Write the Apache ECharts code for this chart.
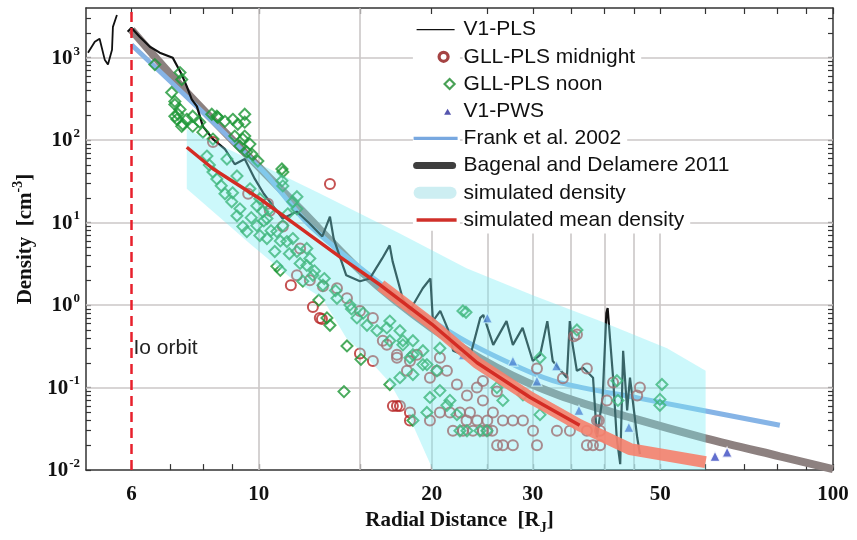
<!DOCTYPE html>
<html>
<head>
<meta charset="utf-8">
<script src="https://cdn.jsdelivr.net/npm/echarts@6.0.0/dist/echarts.min.js"></script>
<style>
html, body { margin: 0; padding: 0; background: #fff; }
#density { width: 857px; height: 540px; }
</style>
</head>
<body>
<div id="density"></div>
<script>
// axis ticks / labels
const xLabels = [6, 10, 20, 30, 50, 100];
const xTicks = [6, 7, 8, 9, 10, 15, 20, 25, 30, 35, 40, 45, 50, 60, 70, 80, 90, 100];
const gridX = [10, 15, 20, 25, 30, 35, 40, 45, 50];
const yLabels = [0.01, 0.1, 1, 10, 100, 1000];
const gridY = [0.1, 1, 10, 100, 1000];
const yMantissa = [1, 2, 3, 4, 5, 6, 7, 8, 9];

// V1-PLS (before and after Io orbit)
const v1PreIo = [[5.04, 1150], [5.18, 1560], [5.28, 1695], [5.39, 946], [5.46, 824], [5.55, 1248], [5.57, 2362], [5.66, 3296]];
const v1Pls = [[5.91, 2057], [6.0, 2298], [6.2, 1791], [6.46, 1357], [6.72, 1150], [7.08, 1000], [7.34, 624], [7.49, 448],
  [7.64, 312], [7.8, 257], [7.99, 147], [8.32, 103], [8.73, 78], [9.08, 51], [9.45, 59], [9.84, 33.9], [10.2, 22.4],
  [11.0, 11.2], [11.65, 13.6], [12.27, 9.7], [12.9, 6.8], [13.3, 11.8], [13.5, 6.4], [14.2, 2.3], [15.0, 1.95], [15.6, 2.1],
  [16.4, 3.68], [16.9, 5.3], [17.1, 3.39], [17.8, 1.21], [18.3, 0.85], [19.3, 1.6], [19.9, 2.1], [20.1, 0.64], [20.7, 0.85],
  [21.3, 0.53], [21.8, 0.28], [23.3, 0.23], [24.3, 0.7], [24.6, 0.76], [25.6, 0.33], [27.0, 0.64], [27.7, 0.33], [28.8, 0.53],
  [30.0, 0.21], [30.9, 0.25], [31.8, 0.64], [32.5, 0.21], [34.4, 0.132], [34.8, 0.64], [35.2, 0.33], [35.8, 0.16], [36.7, 0.174],
  [38.2, 0.132], [38.8, 0.025], [39.7, 0.076], [40.3, 0.8], [40.5, 0.92], [41.4, 0.132], [42.0, 0.025], [42.6, 0.0118],
  [43.1, 0.28], [43.8, 0.053], [44.3, 0.132], [45.6, 0.025], [46.1, 0.0156]];

// GLL-PLS noon (diamonds)
const gllNoon = [[6.59, 824], [7.29, 659], [7.34, 543], [7.05, 379], [7.14, 295], [7.14, 271], [7.23, 206], [7.29, 236],
  [7.2, 179], [7.14, 195], [7.37, 156], [7.49, 179], [7.34, 147], [7.67, 195], [7.67, 147], [7.89, 165], [7.99, 125],
  [8.28, 206], [8.45, 195], [8.48, 189], [8.73, 169], [9.01, 179], [9.45, 206], [9.45, 165], [9.19, 156], [9.08, 112],
  [9.38, 103], [9.45, 112], [9.65, 89.5], [9.27, 84.7], [9.53, 71.6], [9.72, 67.8], [9.96, 55.8], [8.32, 103], [10.97, 44.7],
  [11.01, 41.1], [10.97, 32.1], [11.01, 27.9], [11.65, 20.6], [11.46, 17.9], [11.65, 14.7], [11.23, 12.8],
  [8.32, 41.1], [8.45, 33.9], [8.73, 22.4], [8.97, 17.9], [9.16, 12.1], [9.38, 8.95], [9.53, 7.79], [10.04, 6.97], [10.66, 4.47],
  [8.12, 64.1], [8.8, 59.0], [9.16, 36.8], [9.65, 25.7], [10.04, 19.5], [10.45, 14.7], [11.01, 9.2], [11.46, 6.41], [12.12, 4.86],
  [12.27, 3.68], [10.16, 13.6], [9.92, 9.2], [9.27, 14.7], [10.33, 6.41], [9.92, 16.0], [10.33, 11.2], [10.75, 7.79], [11.19, 5.9],
  [11.65, 4.47], [12.12, 3.03], [12.42, 2.3], [12.93, 1.74], [13.68, 1.21], [14.41, 1.0], [14.82, 0.7], [15.43, 0.57], [16.06, 0.49],
  [16.91, 0.37], [17.82, 0.33], [18.55, 0.25], [19.31, 0.19], [20.42, 0.16], [22.67, 0.85],
  [10.5, 8.0], [10.9, 6.0], [11.3, 4.2], [11.8, 3.2], [12.5, 2.6], [13.0, 2.1], [13.6, 1.5], [14.5, 0.9], [15.2, 0.8], [10.2, 10.5],
  [9.7, 11.5], [9.0, 23], [8.6, 28], [8.2, 50],
  [10.75, 2.95], [10.9, 2.64], [11.93, 1.95], [12.72, 1.15], [13.14, 0.7], [13.3, 0.57], [14.24, 0.32], [15.06, 0.22], [14.07, 0.0895],
  [18.55, 0.04], [16.71, 0.53], [17.61, 0.49], [16.91, 0.64], [17.82, 0.37], [18.55, 0.37], [19.31, 0.28], [18.55, 0.144],
  [19.62, 0.19], [20.67, 0.092], [21.52, 0.07], [22.13, 0.047], [23.04, 0.03], [24.27, 0.03], [24.96, 0.03], [22.4, 0.03],
  [35.81, 0.5], [30.88, 0.23], [28.84, 0.082], [30.88, 0.047], [42.04, 0.121], [42.21, 0.07], [50.36, 0.109], [49.95, 0.072],
  [49.95, 0.061], [22.95, 0.82], [16.91, 0.109], [19.62, 0.05], [17.61, 0.132], [19.86, 0.076], [21.26, 0.061], [18.33, 0.23],
  [20.67, 0.3], [25.98, 0.1], [26.61, 0.07]];

// GLL-PLS midnight (circles)
const gllMidnight = [[13.3, 29.5], [11.37, 1.74], [11.65, 2.3], [12.42, 0.95], [12.77, 0.7], [12.88, 0.68], [15.0, 0.26],
  [17.12, 0.06], [17.4, 0.06], [17.61, 0.06], [18.33, 0.04], [12.27, 2.0], [12.93, 1.69], [13.68, 1.6], [14.24, 1.21],
  [15.0, 0.85], [15.8, 0.7], [16.44, 0.37], [17.4, 0.25], [18.33, 0.21], [20.42, 0.16], [15.8, 0.21], [16.71, 0.33],
  [17.4, 0.23], [18.11, 0.16], [18.85, 0.25], [19.86, 0.132], [20.67, 0.23], [21.26, 0.16], [22.13, 0.109], [23.04, 0.08],
  [23.98, 0.1], [24.56, 0.07], [25.57, 0.05], [26.61, 0.04], [27.7, 0.04], [28.84, 0.04], [30.03, 0.03], [21.78, 0.03],
  [22.67, 0.03], [23.6, 0.03], [24.56, 0.03], [26.61, 0.02], [27.7, 0.02], [30.51, 0.02], [20.67, 0.05], [21.52, 0.05],
  [22.4, 0.05], [23.32, 0.05], [19.86, 0.04], [18.33, 0.05], [30.51, 0.17], [33.85, 0.13], [37.27, 0.17], [38.81, 0.04],
  [37.27, 0.03], [39.28, 0.03], [40.39, 0.07], [35.81, 0.44], [33.05, 0.03], [34.82, 0.03], [37.27, 0.02], [38.19, 0.02],
  [39.28, 0.02], [24.56, 0.12], [25.98, 0.09], [35.4, 0.42], [39.1, 0.04], [41.4, 0.115], [46.1, 0.1], [45.6, 0.08],
  [8.32, 95], [9.58, 22.4], [10.37, 16.9], [10.45, 13.9], [11.01, 8.95], [11.8, 4.86], [25.0, 0.03], [25.5, 0.03],
  [26.0, 0.02], [23.0, 0.04], [24.0, 0.04], [25.0, 0.04]];

// V1-PWS (triangles)
const v1Pws = [[22.7, 0.25], [25.0, 0.7], [27.7, 0.21], [30.5, 0.12], [33.0, 0.184], [36.1, 0.053], [44.1, 0.033],
  [62.3, 0.0147], [65.4, 0.0165]];

// models
const frank2002 = [[6, 1435], [10.16, 42.3], [12.27, 9.2], [17.6, 1.21], [22.4, 0.4], [28.5, 0.174], [33.4, 0.115],
  [46.1, 0.074], [80.8, 0.035]];
const bagenal2011 = [[6, 2170], [7.49, 379], [10, 47.3], [11.8, 14.7], [15.2, 2.43], [20, 0.53], [26.0, 0.174],
  [33.4, 0.08], [44.3, 0.0435], [60, 0.0243], [80.8, 0.0147], [100, 0.0103]];
const meanDensity = [[7.49, 82], [8.32, 45], [10.04, 19.5], [11.65, 9.2], [13.8, 3.9], [16.3, 1.74], [20, 0.59],
  [24.0, 0.2], [29.7, 0.076], [36.2, 0.035], [44.3, 0.018], [60, 0.0125]];
const simUpper = [[7.49, 136], [10.04, 51], [12.8, 22.4], [17.6, 7.4], [23.0, 2.8], [30.0, 1.32], [39.3, 0.64],
  [51.4, 0.3], [60, 0.16]];
const simLower = [[7.49, 25.7], [9.64, 5.6], [11.4, 2.1], [12.9, 1.21], [14.2, 0.4], [15.2, 0.26], [16.9, 0.115],
  [18.3, 0.0435], [20.1, 0.01], [60, 0.01]];

const ioOrbit = 6;
const ioLabelAt = [6, 0.3];

// where the legend box covers the grid (data units)
const legendLeftX = 18.55;
const legendTextX = 22.4;
const legendBottomY = 8;

const yTicks = [];
yLabels.forEach(function (d) {
  yMantissa.forEach(function (m) {
    const v = +(m * d).toPrecision(3);
    if (v < 4000) yTicks.push(v);
  });
});

const serif = 'Liberation Serif';
const sans = 'Liberation Sans';
const ink = '#111';

function powLabel(v) {
  const lg = Math.log10(v);
  const e = Math.round(lg);
  if (Math.abs(lg - e) > 0.01) return '';
  return '{b|10}{s|' + e + '}';
}

const powRich = {
  b: { fontFamily: serif, fontWeight: 'bold', fontSize: 21, color: ink, verticalAlign: 'bottom', lineHeight: 22 },
  s: { fontFamily: serif, fontWeight: 'bold', fontSize: 13, color: ink, verticalAlign: 'bottom', lineHeight: 13, padding: [0, 0, 11, 1] }
};

const frameLine = { show: true, lineStyle: { color: '#333', width: 1.5 } };

// grid segments: vertical lines stop under the legend, horizontal ones skip the legend icons
const gridSegments = [];
gridX.forEach(function (x) {
  const top = x >= legendLeftX ? legendBottomY : 4000;
  gridSegments.push([{ coord: [x, 0.01] }, { coord: [x, top] }]);
});
gridY.forEach(function (y) {
  if (y >= legendBottomY) {
    gridSegments.push([{ coord: [5, y] }, { coord: [legendLeftX, y] }]);
    gridSegments.push([{ coord: [legendTextX, y] }, { coord: [100, y] }]);
  } else {
    gridSegments.push([{ coord: [5, y] }, { coord: [100, y] }]);
  }
});

const chart = echarts.init(document.getElementById('density'));
chart.setOption({
  animation: false,
  backgroundColor: '#fff',
  grid: { left: 86, right: 24, top: 8, bottom: 67 },
  legend: {
    orient: 'vertical',
    left: 410,
    top: 16,
    z: 20,
    padding: 0,
    itemWidth: 46,
    itemHeight: 12,
    itemGap: 0,
    selectedMode: false,
    textStyle: { fontFamily: sans, fontSize: 21, color: ink, backgroundColor: '#fff', padding: [3.1, 6, 3.1, 1] },
    data: [
      { name: 'V1-PLS', icon: 'path://M0,0M46,12M5,5.3h38v1.4h-38z', itemStyle: { color: '#111', borderWidth: 0 } },
      { name: 'GLL-PLS midnight', icon: 'path://M0,0M46,12M27.5,6a4.5,4.5 0 1,0 9,0a4.5,4.5 0 1,0 -9,0z',
        itemStyle: { color: '#fff', borderColor: '#8e1414', borderWidth: 3.2 } },
      { name: 'GLL-PLS noon', icon: 'path://M0,0M46,12M38,1L43,6L38,11L33,6Z',
        itemStyle: { color: '#fff', borderColor: '#1b8a2c', borderWidth: 2.2 } },
      { name: 'V1-PWS', icon: 'path://M0,0M46,12M32.5,9.5L36,3.5L39.5,9.5Z', itemStyle: { color: '#2a2a9a', borderWidth: 0 } },
      { name: 'Frank et al. 2002', icon: 'path://M0,0M46,12M2,4.3h44v3.4h-44z', itemStyle: { color: '#78a8e0', borderWidth: 0 } },
      { name: 'Bagenal and Delamere 2011', icon: 'path://M0,0M46,12M5,2.5h36a3.5,3.5 0 0 1 0,7h-36a3.5,3.5 0 0 1 0,-7z',
        itemStyle: { color: '#3e3e3e', borderWidth: 0 } },
      { name: 'simulated density', icon: 'path://M0,0M46,12M8,0h31a6,6 0 0 1 0,12h-31a6,6 0 0 1 0,-12z',
        itemStyle: { color: '#cdeef2', borderWidth: 0 } },
      { name: 'simulated mean density', icon: 'path://M0,0M46,12M5,4.3h40v3.4h-40z', itemStyle: { color: '#d0302a', borderWidth: 0 } }
    ]
  },
  xAxis: [{
    type: 'log', logBase: 10, min: 5, max: 100, position: 'bottom',
    name: '{a|Radial Distance  [R}{j|J}{a|]}',
    nameLocation: 'middle', nameGap: 32,
    nameTextStyle: {
      rich: {
        a: { fontFamily: serif, fontWeight: 'bold', fontSize: 21, color: ink, verticalAlign: 'top', lineHeight: 22 },
        j: { fontFamily: serif, fontWeight: 'bold', fontSize: 14, color: ink, verticalAlign: 'top', lineHeight: 14, padding: [11, 0, 0, 0] }
      }
    },
    axisLine: frameLine,
    axisTick: { show: true, inside: true, length: 6, customValues: xTicks, lineStyle: { color: '#333', width: 1.2 } },
    axisLabel: { customValues: xLabels, margin: 14, fontFamily: serif, fontWeight: 'bold', fontSize: 21, color: ink },
    splitLine: { show: false }, minorTick: { show: false }
  }, {
    type: 'log', logBase: 10, min: 5, max: 100, position: 'top',
    axisLine: frameLine,
    axisTick: { show: true, inside: true, length: 6, customValues: xTicks, lineStyle: { color: '#333', width: 1.2 } },
    axisLabel: { show: false },
    splitLine: { show: false }
  }],
  yAxis: [{
    type: 'log', logBase: 10, min: 0.01, max: 4000, position: 'left',
    name: '{a|Density  [cm}{s|-3}{a|]}',
    nameLocation: 'middle', nameGap: 44, nameRotate: 90,
    nameTextStyle: {
      rich: {
        a: { fontFamily: serif, fontWeight: 'bold', fontSize: 21, color: ink, verticalAlign: 'bottom', lineHeight: 22 },
        s: { fontFamily: serif, fontWeight: 'bold', fontSize: 14, color: ink, verticalAlign: 'bottom', lineHeight: 14, padding: [0, 0, 11, 0] }
      }
    },
    axisLine: frameLine,
    axisTick: { show: true, inside: true, length: 5, customValues: yTicks, lineStyle: { color: '#333', width: 1.2 } },
    axisLabel: { customValues: yLabels, margin: 6, formatter: powLabel, rich: powRich },
    splitLine: { show: false }, minorTick: { show: false }
  }, {
    type: 'log', logBase: 10, min: 0.01, max: 4000, position: 'right',
    axisLine: frameLine,
    axisTick: { show: true, inside: true, length: 5, customValues: yTicks, lineStyle: { color: '#333', width: 1.2 } },
    axisLabel: { show: false },
    splitLine: { show: false }
  }],
  series: [
    {
      // grid lines
      type: 'scatter', data: [], silent: true, z: 1,
      markLine: {
        silent: true, z: 1, symbol: ['none', 'none'], label: { show: false }, animation: false,
        lineStyle: { color: '#cbc7c7', width: 1.6, type: 'solid' },
        data: gridSegments
      }
    },
    {
      name: 'Bagenal and Delamere 2011', type: 'line', data: bagenal2011, smooth: 0.3, symbol: 'none', z: 2,
      lineStyle: { color: '#8d8180', width: 8 }, itemStyle: { color: '#8d8180' }
    },
    {
      name: 'Frank et al. 2002', type: 'line', data: frank2002, smooth: 0.3, symbol: 'none', z: 2,
      lineStyle: { color: '#86b4e6', width: 5 }, itemStyle: { color: '#86b4e6' }
    },
    {
      name: 'V1-PLS', type: 'line', data: v1PreIo, symbol: 'none', z: 3,
      lineStyle: { color: '#111', width: 1.8 }, itemStyle: { color: '#111' }
    },
    {
      name: 'V1-PLS', type: 'line', data: v1Pls, symbol: 'none', z: 3,
      lineStyle: { color: '#111', width: 2.2 }, itemStyle: { color: '#111' }
    },
    {
      name: 'GLL-PLS midnight', type: 'scatter', data: gllMidnight, symbol: 'circle', symbolSize: 10, z: 4,
      itemStyle: { color: 'rgba(0,0,0,0)', borderColor: '#b62626', borderWidth: 2 }
    },
    {
      name: 'GLL-PLS noon', type: 'scatter', data: gllNoon, symbol: 'diamond', symbolSize: 11, z: 4,
      itemStyle: { color: 'rgba(0,0,0,0)', borderColor: '#1c9634', borderWidth: 2 }
    },
    {
      name: 'V1-PWS', type: 'scatter', data: v1Pws, symbol: 'triangle', symbolSize: 10, z: 4,
      itemStyle: { color: '#3a4ac2', borderColor: '#fff', borderWidth: 1.2 }
    },
    {
      name: 'simulated density', type: 'custom', z: 5, silent: true,
      data: [simUpper[0]],
      encode: { x: 0, y: 1 },
      itemStyle: { color: '#cdeef2' },
      renderItem: function (params, api) {
        const pts = simUpper.concat(simLower.slice().reverse()).map(function (p) { return api.coord(p); });
        return { type: 'polygon', shape: { points: pts }, style: { fill: 'rgba(120,236,244,0.38)' } };
      }
    },
    {
      type: 'line', data: meanDensity.filter(function (p) { return p[0] >= 16; }), symbol: 'none', z: 6, silent: true,
      lineStyle: { color: '#f6806c', width: 12, opacity: 0.9 }
    },
    {
      name: 'simulated mean density', type: 'line', data: meanDensity.filter(function (p) { return p[0] <= 37; }),
      symbol: 'none', z: 7, lineStyle: { color: '#d42c24', width: 3.5 }, itemStyle: { color: '#d42c24' }
    },
    {
      // Io orbit
      type: 'scatter', data: [], silent: true, z: 8,
      markLine: {
        silent: true, symbol: ['none', 'none'], animation: false, label: { show: false },
        lineStyle: { color: '#e8202c', width: 2.5, type: [10, 6] },
        data: [{ xAxis: ioOrbit }]
      },
      markPoint: {
        silent: true, symbol: 'circle', symbolSize: 0, animation: false,
        data: [{ coord: ioLabelAt }],
        label: { show: true, position: 'right', distance: 2, formatter: 'Io orbit', fontFamily: sans, fontSize: 21, color: '#222' }
      }
    }
  ]
});
</script>
</body>
</html>
